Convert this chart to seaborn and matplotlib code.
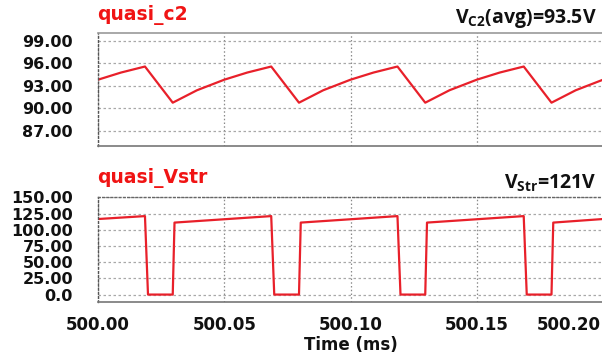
import matplotlib
matplotlib.use("Agg")
import matplotlib.pyplot as plt
import matplotlib.transforms as mtransforms
import seaborn as sns
import pandas as pd

# Capacitor C2 voltage (V) over time (ms)
c2_time = [500.0000, 500.0091, 500.0186, 500.0296, 500.0392,
           500.0500, 500.0591, 500.0686, 500.0796, 500.0892,
           500.1000, 500.1091, 500.1186, 500.1296, 500.1392,
           500.1500, 500.1591, 500.1686, 500.1796, 500.1892,
           500.2000]
c2_volt = [93.8, 94.75, 95.55, 90.75, 92.4,
           93.8, 94.75, 95.55, 90.75, 92.4,
           93.8, 94.75, 95.55, 90.75, 92.4,
           93.8, 94.75, 95.55, 90.75, 92.4,
           93.8]

# String voltage (V) over time (ms)
str_time = [500.0000, 500.0186, 500.0198, 500.0296, 500.0303,
            500.0686, 500.0698, 500.0796, 500.0803,
            500.1186, 500.1198, 500.1296, 500.1303,
            500.1686, 500.1698, 500.1796, 500.1803,
            500.2000]
str_volt = [116.5, 121.0, 0.0, 0.0, 111.0,
            121.0, 0.0, 0.0, 111.0,
            121.0, 0.0, 0.0, 111.0,
            121.0, 0.0, 0.0, 111.0,
            116.5]

x_ticks = [500.00, 500.05, 500.10, 500.15, 500.20]
x_tick_labels = ["500.00", "500.05", "500.10", "500.15", "500.20"]
c2_ticks = [87, 90, 93, 96, 99]
c2_tick_labels = ["87.00", "90.00", "93.00", "96.00", "99.00"]
str_ticks = [0, 25, 50, 75, 100, 125, 150]
str_tick_labels = ["0.0", "25.00", "50.00", "75.00", "100.00", "125.00", "150.00"]

sns.set_theme(style="white")
plt.rcParams["font.family"] = ["DejaVu Sans"]
plt.rcParams["font.weight"] = "bold"
plt.rcParams["mathtext.fontset"] = "custom"
plt.rcParams["mathtext.bf"] = "Open Sans:bold"
plt.rcParams["mathtext.rm"] = "Open Sans:bold"

LINE = "#e8202a"
TITLE = "#f01414"

fig = plt.figure(figsize=(6.02, 3.57), dpi=100)
ax1 = fig.add_axes([98 / 602, 1 - 146 / 357, 505 / 602, 113 / 357])
ax2 = fig.add_axes([98 / 602, 1 - 301.7 / 357, 505 / 602, 104.4 / 357])

df_c2 = pd.DataFrame({"t": c2_time, "v": c2_volt})
df_str = pd.DataFrame({"t": str_time, "v": str_volt})

sns.lineplot(data=df_c2, x="t", y="v", ax=ax1, color=LINE, lw=1.6,
             sort=False, estimator=None)
sns.lineplot(data=df_str, x="t", y="v", ax=ax2, color=LINE, lw=1.6,
             sort=False, estimator=None)

for ax, yt, ytl, ylim in [(ax1, c2_ticks, c2_tick_labels, (85, 100)),
                          (ax2, str_ticks, str_tick_labels, (-11, 150))]:
    ax.set_xlim(500.0, 500.2)
    ax.set_ylim(*ylim)
    ax.set_xticks(x_ticks)
    ax.set_yticks(yt)
    ax.set_yticklabels(ytl, fontsize=11.5, fontweight="bold", color="#111111")
    ax.set_xlabel("")
    ax.set_ylabel("")
    ax.xaxis.grid(True, color="#8a8a8a", linestyle=(0, (1.2, 1.8)), lw=0.9)
    ax.yaxis.grid(True, color="#a8a8a8", linestyle=(0, (2.0, 2.0)), lw=0.9)
    ax.tick_params(axis="y", length=0, pad=18)
    ax.tick_params(axis="x", length=0, pad=10)
    ax.spines["right"].set_visible(False)
    ax.spines["left"].set_color("#555555")
    ax.spines["left"].set_linestyle((0, (1.2, 1.8)))
    ax.spines["left"].set_linewidth(1.0)
    ax.spines["bottom"].set_color("#777777")
    ax.spines["bottom"].set_linewidth(1.2)

ax1.spines["top"].set_color("#999999")
ax1.spines["top"].set_linewidth(1.2)
ax2.spines["top"].set_color("#666666")
ax2.spines["top"].set_linestyle((0, (1.2, 1.8)))
ax2.spines["top"].set_linewidth(1.0)

ax1.set_xticklabels([])
ax2.set_xticklabels(x_tick_labels, fontsize=12, fontweight="bold", color="#111111")
# keep the last time label inside the figure edge
last = ax2.get_xticklabels()[-1]
last.set_horizontalalignment("right")
last.set_transform(last.get_transform() +
                   mtransforms.ScaledTranslation(-2 / 100, 0, fig.dpi_scale_trans))
ax2.set_xlabel("Time (ms)", fontsize=12, fontweight="bold", color="#111111",
               labelpad=2)

fig.text(97 / 602, 1 - 15 / 357, "quasi_c2", color=TITLE, fontsize=13.5,
         fontweight="bold", ha="left", va="center")
fig.text(97 / 602, 1 - 178 / 357, "quasi_Vstr", color=TITLE, fontsize=13.5,
         fontweight="bold", ha="left", va="center")
fig.text(597 / 602, 1 - 18 / 357, r"$\mathbf{V}_{\mathbf{C2}}$(avg)=93.5V",
         color="#111111", fontsize=14, family="Open Sans", fontweight="bold",
         ha="right", va="center")
fig.text(596 / 602, 1 - 183 / 357, r"$\mathbf{V}_{\mathbf{Str}}$=121V",
         color="#111111", fontsize=14, family="Open Sans", fontweight="bold",
         ha="right", va="center")

fig.savefig("out.png", dpi=100)
